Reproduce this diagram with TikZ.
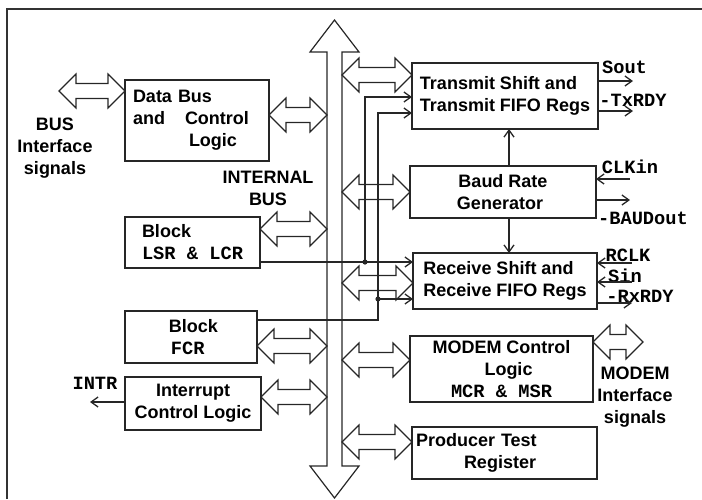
\documentclass[tikz,border=0pt]{standalone}
\usepackage{fontspec}
\setsansfont{Liberation Sans}
\setmonofont{Liberation Mono}
\usepackage{tikz}
\usetikzlibrary{arrows.meta, positioning, calc}
\newcommand{\boxfont}{\sffamily\bfseries\fontsize{18}{22}\selectfont}
\newcommand{\sigfont}{\ttfamily\bfseries\fontsize{18.7}{22}\selectfont}
\tikzstyle{block} = [rectangle, draw=black!85, line width=1.6pt, inner sep=0pt, outer sep=0pt, font=\boxfont, align=center]
\tikzstyle{sidetext} = [inner sep=0pt, font=\boxfont, align=center]
\tikzstyle{sigtext} = [inner sep=0pt, font=\sigfont]
\tikzstyle{wire} = [draw=black!85, line width=1.3pt, -{Straight Barb[length=7pt,width=10pt]}]
\tikzstyle{wirein} = [draw=black!85, line width=1.3pt, {Straight Barb[length=7pt,width=10pt]}-]
\tikzstyle{dualarrow} = [draw=black!85, line width=1.2pt, line join=miter, to path={
  let \p1=(\tikztostart), \p2=(\tikztotarget), \n1={ifthenelse(\x2>\x1,1,-1)} in
  -- (\x1+\n1*17pt, \y1+17pt) -- (\x1+\n1*17pt, \y1+7.5pt) -- (\x2-\n1*17pt, \y1+7.5pt)
  -- (\x2-\n1*17pt, \y1+17pt) -- (\x2, \y1) -- (\x2-\n1*17pt, \y1-17pt)
  -- (\x2-\n1*17pt, \y1-7.5pt) -- (\x1+\n1*17pt, \y1-7.5pt) -- (\x1+\n1*17pt, \y1-17pt) -- cycle}]
\tikzstyle{mainbus} = [draw=black!85, line width=1.2pt, line join=miter, to path={
  let \p1=(\tikztostart), \p2=(\tikztotarget), \n1={ifthenelse(\y2>\y1,1,-1)} in
  -- (\x1+24.5pt, \y1+\n1*32pt) -- (\x1+7.5pt, \y1+\n1*32pt) -- (\x1+7.5pt, \y2-\n1*32pt)
  -- (\x1+24.5pt, \y2-\n1*32pt) -- (\x1, \y2) -- (\x1-24.5pt, \y2-\n1*32pt)
  -- (\x1-7.5pt, \y2-\n1*32pt) -- (\x1-7.5pt, \y1+\n1*32pt) -- (\x1-24.5pt, \y1+\n1*32pt) -- cycle}]

\begin{document}
\begin{tikzpicture}[x=1pt, y=-1pt]
    \useasboundingbox (0,0) rectangle (702,499);
    \draw[line width=2pt, black!80] (7,499) -- (7,9) -- (702,9);

    \node (dbus) [block, anchor=north west, minimum width=144pt, minimum height=81pt, text width=128pt, align=left] at (125,80) {Data Bus\\and\hspace{20pt}Control\\\hspace*{56pt}Logic};
    \node (lsr) [block, below=56pt of dbus.south west, anchor=north west, minimum width=135pt, minimum height=51pt, align=left] {Block\\{\sigfont LSR \& LCR}};
    \node (fcr) [block, below=43pt of lsr.south west, anchor=north west, minimum width=132pt, minimum height=52pt, align=left] {\hspace*{5pt}Block\\\hspace*{7pt}{\sigfont FCR}};
    \node (intr) [block, below=14pt of fcr.south west, anchor=north west, minimum width=136pt, minimum height=53pt] {Interrupt\\Control Logic};

    \node (tx) [block, anchor=north west, minimum width=186pt, minimum height=66pt, align=left] at (412,63) {Transmit Shift and\\Transmit FIFO Regs};
    \node (baud) [block, below=37pt of tx.south west, anchor=north west, xshift=-2pt, minimum width=186pt, minimum height=52pt] {Baud Rate\\Generator\hspace*{6pt}};
    \node (rx) [block, below=35pt of baud.south west, anchor=north west, xshift=3pt, minimum width=184pt, minimum height=56pt, align=left] {Receive Shift and\\Receive FIFO Regs};
    \node (modem) [block, below=27pt of rx.south west, anchor=north west, xshift=-3pt, minimum width=183pt, minimum height=66pt] {MODEM Control\\\hspace*{14pt}Logic\\{\sigfont MCR \& MSR}};
    \node (ptest) [block, below=25pt of modem.south west, anchor=north west, xshift=2pt, minimum width=185pt, minimum height=52pt, text width=177pt, align=left] {Producer Test\\\hspace*{48pt}Register};

    \node (bus) [minimum width=15pt, minimum height=478pt, inner sep=0pt, outer sep=0pt] at (334.5,259) {};
    \draw[mainbus] (bus.north) to (bus.south);

    \node (busnote) [sidetext] at (55,148) {BUS\\Interface\\signals};
    \node (busname) [sidetext] at (268,188.5) {INTERNAL\\BUS};
    \node (modemnote) [sidetext] at (635,397) {MODEM\\Interface\\signals};

    \coordinate (busif) at (59,91);
    \coordinate (modemif) at (643,342);
    \draw[dualarrow] (busif) to (dbus.west);
    \draw[dualarrow] (modemif) to (modem.east);
    \draw[dualarrow] ([yshift=5.5pt]dbus.east) to (bus.west);
    \draw[dualarrow] ([yshift=13.5pt]lsr.east) to (bus.west);
    \draw[dualarrow] ([yshift=-9pt]fcr.east) to (bus.west);
    \draw[dualarrow] ([yshift=6.5pt]intr.east) to (bus.west);
    \draw[dualarrow] ([yshift=21pt]tx.west) to (bus.east);
    \draw[dualarrow] (baud.west) to (bus.east);
    \draw[dualarrow] ([yshift=-2pt]rx.west) to (bus.east);
    \draw[dualarrow] ([yshift=9pt]modem.west) to (bus.east);
    \draw[dualarrow] ([yshift=11pt]ptest.west) to (bus.east);

    \coordinate (tapA) at (365,262);
    \coordinate (tapB) at (378,299);
    \draw[wire] (lsr.east |- tapA) -- (tapA -| rx.west);
    \draw[wire] (tapA) |- ([yshift=-1pt]tx.west);
    \draw[wire] ([yshift=17pt]fcr.east) -| (tapB) |- ([yshift=-17pt]tx.west);
    \draw[wire] (tapB) -- (tapB -| rx.west);
    \fill[black!85] (tapA) circle (2.6pt);
    \fill[black!85] (tapB) circle (2.6pt);

    \coordinate (baudup) at ([xshift=6pt]baud.north);
    \coordinate (bauddown) at ([xshift=6pt]baud.south);
    \draw[wire] (baudup) -- (baudup |- tx.south);
    \draw[wire] (bauddown) -- (bauddown |- rx.north);

    \node (sout) [sigtext] at (624.5,67) {Sout};
    \node (txrdy) [sigtext] at (633,100) {-TxRDY};
    \node (clkin) [sigtext] at (630,167) {CLKin};
    \node (baudout) [sigtext] at (643,218) {-BAUDout};
    \node (rclk) [sigtext] at (628,255) {RCLK};
    \node (sin) [sigtext] at (625,276) {Sin};
    \node (rxrdy) [sigtext] at (640,296) {-RxRDY};
    \node (intrpin) [sigtext] at (95,383) {INTR};

    \draw[wire] ([yshift=15pt]tx.east) -- ++(35,0);
    \draw[wire] ([yshift=-15pt]tx.east) -- ++(35,0);
    \draw[wirein] ([yshift=13pt]baud.east) -- ++(34,0);
    \draw[wire] ([yshift=-8pt]baud.east) -- ++(34,0);
    \draw[wirein] ([yshift=18pt]rx.east) -- ++(35,0);
    \draw[wirein] ([yshift=-1pt]rx.east) -- ++(35,0);
    \draw[wire] ([yshift=-22pt]rx.east) -- ++(35,0);
    \draw[wire] ([yshift=1.5pt]intr.west) -- ++(-35,0);
\end{tikzpicture}
\end{document}
